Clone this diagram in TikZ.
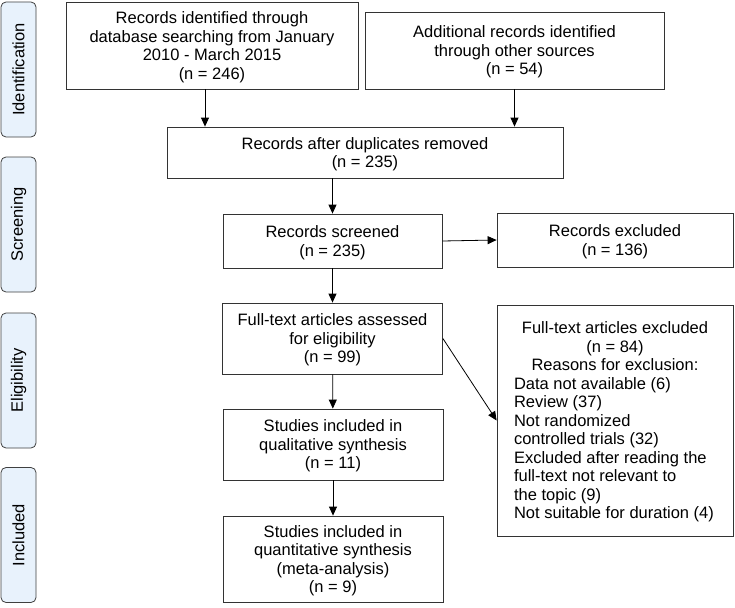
\documentclass[tikz,border=0pt]{standalone}
\usepackage{fontspec}
\setmainfont{Liberation Sans}
\usepackage{tikz}
\usetikzlibrary{arrows.meta}
\definecolor{fasekleur}{RGB}{232,242,252}

\begin{document}
\begin{tikzpicture}[x=1pt,y=-1pt,
	vak/.style={draw=black!80,line width=0.8pt,align=center,inner sep=2pt,text depth=0pt,font=\fontsize{16.5}{18.5}\selectfont},
	fase/.style={draw=black!75,fill=fasekleur,rounded corners=5pt,line width=0.8pt,rotate=90,minimum width=135pt,minimum height=35pt,inner sep=0pt,font=\fontsize{16.5}{18.5}\selectfont},
	pijl/.style={line width=0.8pt,-{Triangle[length=9pt,width=8pt]}}]
		\useasboundingbox (0,0) rectangle (735,607);
		\node[fase] (F1) at (18.5,69.5) {Identification};
		\node[fase] (F2) at (18.5,224.5) {Screening};
		\node[fase] (F3) at (18.5,380.5) {Eligibility};
		\node[fase] (F4) at (18.5,535) {Included};
		\node[vak,minimum width=292pt,minimum height=87pt] (B1) at (212,45.5) {Records identified through\\database searching from January\\2010 - March 2015\\(n = 246)};
		\node[vak,minimum width=299pt,minimum height=77pt] (B2) at (514.5,50.5) {Additional records identified\\through other sources\\(n = 54)};
		\node[vak,minimum width=396pt,minimum height=51pt] (B3) at (365,152.5) {Records after duplicates removed\\(n = 235)};
		\node[vak,minimum width=219pt,minimum height=54pt] (B4) at (332.5,241) {Records screened\\(n = 235)};
		\node[vak,minimum width=236pt,minimum height=54pt] (B5) at (615,240) {Records excluded\\(n = 136)};
		\node[vak,minimum width=220pt,minimum height=71pt] (B6) at (332.5,338.5) {Full-text articles assessed\\for eligibility\\(n = 99)};
		\node[vak,minimum width=236pt,minimum height=231pt] (B7) at (615,420.5) {\begin{minipage}[b]{202pt}
			{\centering Full-text articles excluded\\(n = 84)\\Reasons for exclusion:\par}
			\raggedright Data not available (6)\\Review (37)\\Not randomized\\controlled trials (32)\\Excluded after reading the\\full-text not relevant to\\the topic (9)\\Not suitable for duration (4)
		\end{minipage}};
		\node[vak,minimum width=220pt,minimum height=71pt] (B8) at (333,444.5) {Studies included in\\qualitative synthesis\\(n = 11)};
		\node[vak,minimum width=220pt,minimum height=86pt] (B9) at (333,559) {Studies included in\\quantitative synthesis\\(meta-analysis)\\(n = 9)};
		\draw[pijl] ([xshift=-7pt]B1.south) -- ([xshift=-7pt]B1.south |- B3.north);
		\draw[pijl] (B2.south) -- (B2.south |- B3.north);
		\draw[pijl] (B4.north |- B3.south) -- (B4.north);
		\draw[pijl] (B4.east) -- (B5.west);
		\draw[pijl] (B4) -- (B6);
		\draw[pijl] (B6.east) -- (B7.west);
		\draw[pijl] (B6) -- (B8);
		\draw[pijl] (B8) -- (B9);
	\end{tikzpicture}
\end{document}
